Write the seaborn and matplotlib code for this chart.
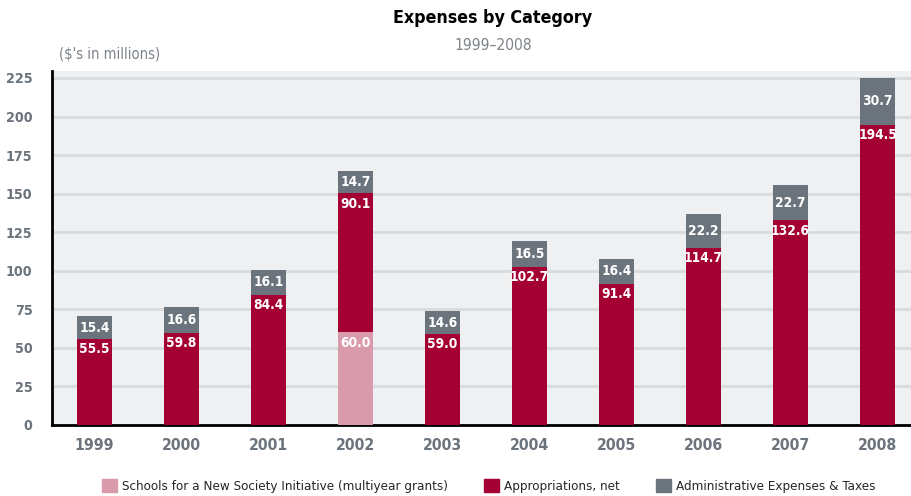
# import libraries
import pandas as pd
import numpy as np
import matplotlib
matplotlib.use('Agg')
import matplotlib.pyplot as plt
import seaborn as sns
from matplotlib.patches import Patch

# define variables
years = ['1999', '2000', '2001', '2002', '2003', '2004', '2005', '2006', '2007', '2008']
schools = [0, 0, 0, 60.0, 0, 0, 0, 0, 0, 0]
appropriations = [55.5, 59.8, 84.4, 90.1, 59.0, 102.7, 91.4, 114.7, 132.6, 194.5]
admin = [15.4, 16.6, 16.1, 14.7, 14.6, 16.5, 16.4, 22.2, 22.7, 30.7]
yticks = [0, 25, 50, 75, 100, 125, 150, 175, 200, 225]

c_school = '#d99aab'
c_approp = '#a50034'
c_admin = '#6b737c'

sns.set_style('white')
plt.rcParams['font.family'] = ['DejaVu Sans']
plt.rcParams['font.stretch'] = 'condensed'

df = pd.DataFrame({'year': years, 'schools': schools,
                   'approp': appropriations, 'admin': admin})
df['lvl2'] = df['schools'] + df['approp']
df['total'] = df['lvl2'] + df['admin']

fig = plt.figure(figsize=(9.11, 4.96), dpi=100)
ax = fig.add_axes([52 / 911, 1 - 425 / 496, 1 - 52 / 911, (425 - 71) / 496])
ax.set_facecolor('#eff0f2')

ax.yaxis.grid(True, color='#d9dadc', linewidth=2)
ax.set_axisbelow(True)

# stacked bars: draw cumulative totals back to front
for col, c, z in [('total', c_admin, 2), ('lvl2', c_approp, 3), ('schools', c_school, 4)]:
    sns.barplot(data=df, x='year', y=col, color=c, width=0.40, saturation=1,
                linewidth=0, ax=ax, zorder=z)

# labels on bars
lab_kw = dict(ha='center', color='white', fontsize=9.8, fontweight='bold', zorder=6)
for i, row in df.iterrows():
    ax.text(i, row['lvl2'] + row['admin'] / 2, f"{row['admin']:.1f}", va='center', **lab_kw)
    ax.text(i, row['lvl2'] - 2, f"{row['approp']:.1f}", va='top', **lab_kw)
    if row['schools'] > 0:
        ax.text(i, row['schools'] - 2, f"{row['schools']:.1f}", va='top', **lab_kw)

ax.set_xlim(-0.489, 9.385)
ax.set_ylim(0, 229.5)
ax.set_yticks(yticks)
ax.set_yticklabels([str(t) for t in yticks])
ax.set_xlabel('')
ax.set_ylabel('')

for s in ['top', 'right']:
    ax.spines[s].set_visible(False)
for s in ['left', 'bottom']:
    ax.spines[s].set_color('black')
    ax.spines[s].set_linewidth(2)

ax.tick_params(axis='y', length=0, pad=14, labelsize=10.3, labelcolor=c_admin)
ax.tick_params(axis='x', length=0, pad=9, labelsize=11.3, labelcolor=c_admin)
for lab in ax.get_xticklabels() + ax.get_yticklabels():
    lab.set_fontweight('bold')

# boundary ticks between categories
ax.set_xticks(np.arange(0.5, 9.5, 1), minor=True)
ax.tick_params(axis='x', which='minor', direction='in', length=6, width=2, color='black')

fig.text(493 / 911, 1 - 18 / 496, 'Expenses by Category', ha='center', va='center',
         fontsize=12.8, fontweight='bold', color='black')
fig.text(493 / 911, 1 - 45 / 496, '1999\u20132008', ha='center', va='center',
         fontsize=11.2, color='#7d838a')
fig.text(59 / 911, 1 - 54 / 496, "($'s in millions)", ha='left', va='center',
         fontsize=10.5, color='#7d838a')

handles = [Patch(color=c_school, label='Schools for a New Society Initiative (multiyear grants)'),
           Patch(color=c_approp, label='Appropriations, net'),
           Patch(color=c_admin, label='Administrative Expenses & Taxes')]
fig.legend(handles=handles, loc='center', bbox_to_anchor=(489 / 911, 1 - 486 / 496), ncol=3,
           frameon=False, fontsize=9.6, handlelength=1.1, handleheight=1.1,
           columnspacing=2.7, handletextpad=0.4)

fig.savefig('out.png', dpi=100)
